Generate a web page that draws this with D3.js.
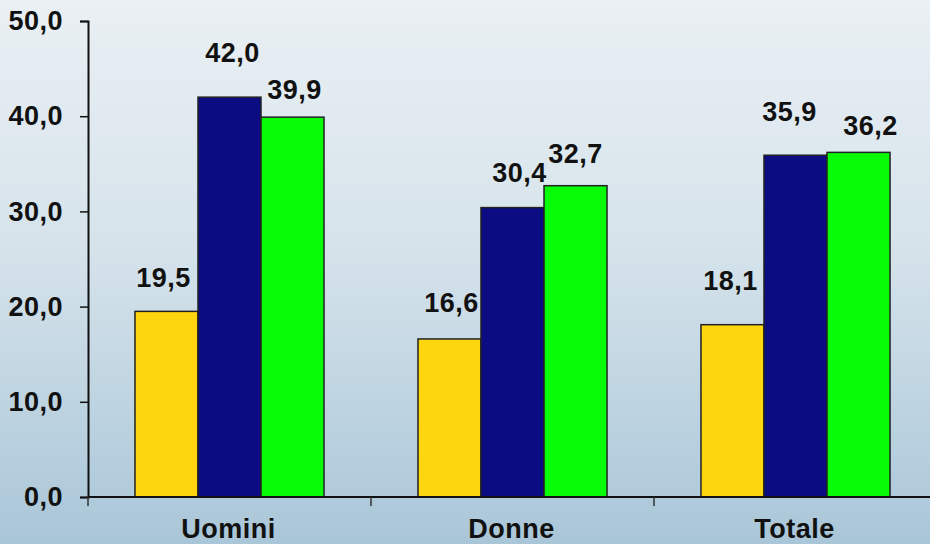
<!DOCTYPE html>
<html>
<head>
<meta charset="utf-8">
<script src="https://cdn.jsdelivr.net/npm/d3@7"></script>
<style>
  html, body { margin: 0; padding: 0; overflow: hidden; }
  svg { display: block; }
  text { font-family: "Liberation Sans", Arial, sans-serif; font-weight: bold; fill: #111; }
</style>
</head>
<body>
<svg id="chart" width="930" height="544"></svg>
<script>
// Categories and the three series shown for each of them
const categories = ["Uomini", "Donne", "Totale"];
const seriesKeys = ["s1", "s2", "s3"];
const s1 = [19.5, 16.6, 18.1];
const s2 = [42.0, 30.4, 35.9];
const s3 = [39.9, 32.7, 36.2];
const yTicks = [0, 10, 20, 30, 40, 50];

const seriesValues = { s1, s2, s3 };
const seriesColors = { s1: "#fdd60f", s2: "#0b0b82", s3: "#08fc08" };

// Hand-placed label nudges [dx, gap above bar top], per series then category
const labelNudge = {
  s1: [[-3, 24], [2, 27], [-2, 35]],
  s2: [[3, 35], [7, 26], [-6, 34]],
  s3: [[2, 18], [0, 23], [12, 17]]
};

const W = 930, H = 544;
const plotLeft = 88, plotRight = 937, plotTop = 21, plotBottom = 497;
const fontSize = "27px", letterSpacing = "0.5px";

const svg = d3.select("#chart");

// Background: vertical gradient from pale grey-blue to steel blue
const defs = svg.append("defs");
const grad = defs.append("linearGradient")
  .attr("id", "bg").attr("x1", 0).attr("y1", 0).attr("x2", 0).attr("y2", 1);
grad.append("stop").attr("offset", "0%").attr("stop-color", "#eaf0f4");
grad.append("stop").attr("offset", "45%").attr("stop-color", "#d6e3eb");
grad.append("stop").attr("offset", "100%").attr("stop-color", "#a9c6d8");
svg.append("rect").attr("width", W).attr("height", H).attr("fill", "url(#bg)");

const x0 = d3.scaleBand().domain(categories).range([plotLeft, plotRight])
  .paddingInner(0.332).paddingOuter(0.166);
const x1 = d3.scaleBand().domain(seriesKeys).range([0, x0.bandwidth()]);
const y = d3.scaleLinear().domain([0, 50]).range([plotBottom, plotTop]);

const fmt = v => d3.format(".1f")(v).replace(".", ",");

// Bars
const groups = svg.append("g").selectAll("g")
  .data(categories)
  .join("g")
  .attr("transform", d => `translate(${x0(d)},0)`);

const cells = (c, i) => seriesKeys.map(k => ({ key: k, idx: i, value: seriesValues[k][i] }));

groups.selectAll("rect")
  .data(cells)
  .join("rect")
  .attr("x", d => x1(d.key))
  .attr("y", d => y(d.value))
  .attr("width", x1.bandwidth())
  .attr("height", d => y(0) - y(d.value))
  .attr("fill", d => seriesColors[d.key])
  .attr("stroke", "#222")
  .attr("stroke-width", 1.5);

// Value labels above each bar
groups.selectAll("text.val")
  .data(cells)
  .join("text")
  .attr("class", "val")
  .attr("x", d => x1(d.key) + x1.bandwidth() / 2 + labelNudge[d.key][d.idx][0])
  .attr("y", d => y(d.value) - labelNudge[d.key][d.idx][1])
  .attr("text-anchor", "middle")
  .style("font-size", fontSize)
  .style("letter-spacing", letterSpacing)
  .text(d => fmt(d.value));

// Y axis
const yAxis = svg.append("g")
  .attr("transform", `translate(${plotLeft},0)`)
  .call(d3.axisLeft(y).tickValues(yTicks).tickFormat(fmt).tickSize(8).tickPadding(17));
yAxis.select(".domain").attr("stroke", "#111").attr("stroke-width", 2);
yAxis.selectAll(".tick line").attr("stroke", "#111").attr("stroke-width", 1.5);
yAxis.selectAll(".tick text")
  .style("font-size", fontSize)
  .style("letter-spacing", letterSpacing)
  .style("font-family", "'Liberation Sans', Arial, sans-serif")
  .style("font-weight", "bold")
  .attr("fill", "#111");

// X axis with ticks between categories
const boundaries = [plotLeft, ...categories.slice(1).map(c => x0(c) - x0.step() * x0.paddingInner() / 2)];
const xg = svg.append("g");
xg.append("line")
  .attr("x1", x0.range()[0]).attr("x2", x0.range()[1])
  .attr("y1", y(0)).attr("y2", y(0))
  .attr("stroke", "#111").attr("stroke-width", 2);
xg.selectAll("line.tk")
  .data(boundaries)
  .join("line")
  .attr("class", "tk")
  .attr("x1", d => d).attr("x2", d => d)
  .attr("y1", y(0)).attr("y2", y(0) + 9)
  .attr("stroke", "#333").attr("stroke-width", 1.5);
xg.selectAll("text.cat")
  .data(categories)
  .join("text")
  .attr("class", "cat")
  .attr("x", d => x0(d) + x0.bandwidth() / 2 - 1)
  .attr("y", 538)
  .attr("text-anchor", "middle")
  .style("font-size", fontSize)
  .style("letter-spacing", letterSpacing)
  .text(d => d);
</script>
</body>
</html>
